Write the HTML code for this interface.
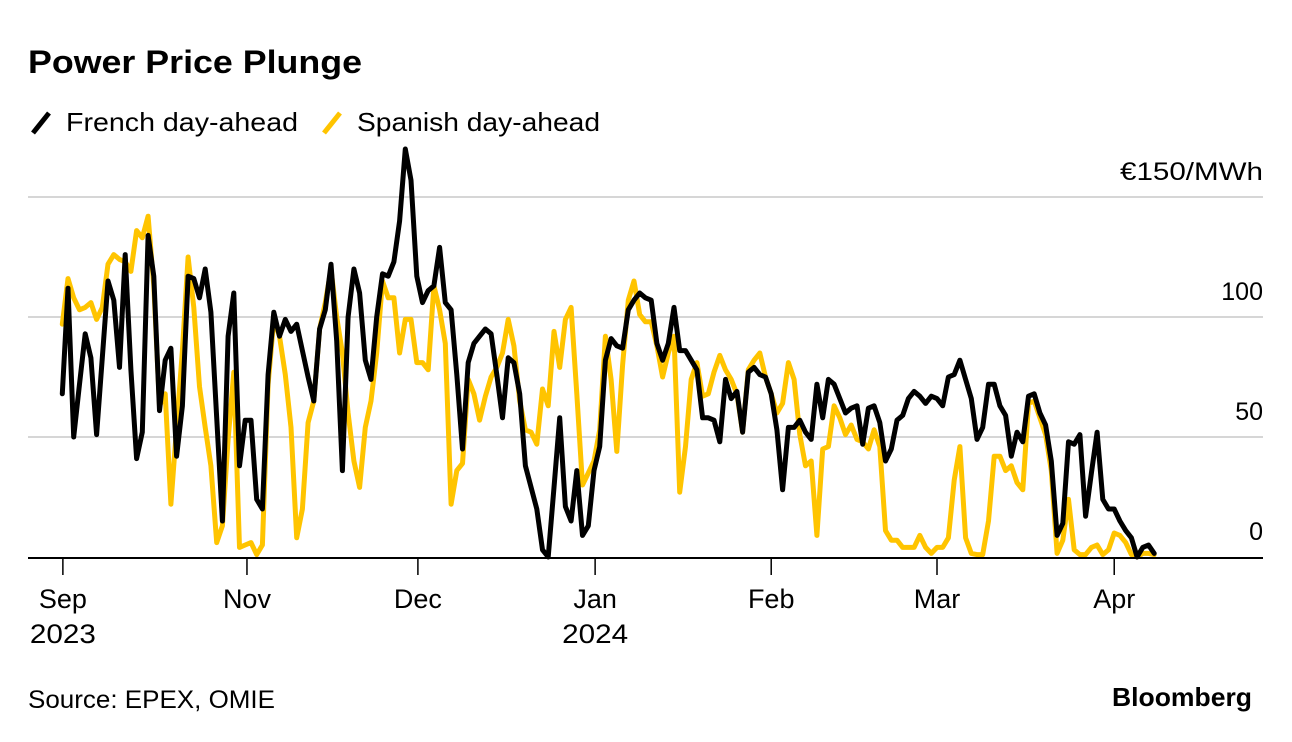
<!DOCTYPE html>
<html><head><meta charset="utf-8">
<style>
body{margin:0;background:#fff;width:1292px;height:742px;overflow:hidden;font-family:"Liberation Sans",sans-serif;}
svg{display:block}
</style></head>
<body>
<svg id="chart" width="1292" height="742" xmlns="http://www.w3.org/2000/svg">
<text x="28" y="73" font-family="Liberation Sans" font-weight="bold" font-size="32" fill="#000" textLength="334" lengthAdjust="spacingAndGlyphs">Power Price Plunge</text>
<g>
 <g>
  <line x1="33" y1="133" x2="49" y2="113" stroke="#000" stroke-width="5"/>
  <text x="66" y="131" font-size="26" fill="#000" textLength="232" lengthAdjust="spacingAndGlyphs">French day-ahead</text>
 </g>
 <g>
  <line x1="324" y1="133" x2="340" y2="113" stroke="#ffc400" stroke-width="5"/>
  <text x="357" y="131" font-size="26" fill="#000" textLength="243" lengthAdjust="spacingAndGlyphs">Spanish day-ahead</text>
 </g>
</g>
<g id="grid"></g>
<g id="ylabels"></g>
<g id="series"></g>
<g id="xaxis"></g>
<text x="28" y="708" font-size="25" fill="#000" textLength="247" lengthAdjust="spacingAndGlyphs">Source: EPEX, OMIE</text>
<text x="1112" y="706" font-size="26" font-weight="bold" fill="#000" textLength="140" lengthAdjust="spacingAndGlyphs">Bloomberg</text>
</svg>
<script>
const yTicks = [0, 50, 100, 150];
const yTickLabels = ["0", "50", "100", "€150/MWh"];
const xTickDays = [0.1, 32.3, 62.2, 93.2, 124, 153, 184];
const xTickMonths = ["Sep", "Nov", "Dec", "Jan", "Feb", "Mar", "Apr"];
const xTickYears = ["2023", "", "", "2024", "", "", ""];
const french = [68,112,50,72,93,83,51,83,115,107,
79,126,78,41,52,134,117,61,82,87,
42,63,117,116,108,120,102,58,15,92,
110,38,57,57,24,20,76,102,92,99,
94,97,86,75,65,95,103,122,90,36,
100,120,110,82,74,100,118,117,123,140,
170,157,117,106,111,113,129,106,103,76,
45,81,89,92,95,93,76,58,83,81,
68,38,29,20,3,0,29,58,21,15,
36,9,13,36,46,82,91,88,87,103,
107,110,108,107,89,82,89,104,86,86,
82,78,58,58,57,48,74,66,69,52,
77,79,76,75,68,53,28,54,54,57,
52,49,72,58,74,72,66,60,62,63,
47,62,63,56,40,45,57,59,66,69,
67,64,67,66,63,75,76,82,74,66,
49,54,72,72,63,59,42,52,48,67,
68,60,55,40,9,14,48,47,51,17,
35,52,24,20,20,15,11,8,0,4,
5,1.5];
const spanish = [97,116,108,103,104,106,99,104,122,126,
124,123,119,136,133,142,113,63,68,22,
54,86,125,104,71,54,38,6,13,49,
77,4,5,6,1,5,72,99,92,76,
54,8,20,56,65,95,106,120,100,85,
60,40,29,54,65,85,115,108,108,85,
99,99,81,81,78,113,103,89,22,36,
39,74,68,57,67,75,79,85,99,88,
65,53,52,47,70,63,94,79,99,104,
68,30,35,40,53,92,74,44,80,107,
115,101,98,98,88,75,85,92,27,46,
74,81,67,68,77,84,78,74,68,52,
78,82,85,75,68,60,64,81,74,51,
38,40,9,45,46,63,58,51,55,49,
48,45,53,46,11,7,7,4,4,4,
9,4,1.5,4,4,8,32,46,8,1.5,
1,1,15,42,42,36,38,31,28,64,
65,58,51,36,1.5,7,24,3,1,1,
4,5,1,3,10,9,6,1,0,1.5,
1.5,1];

const NS = "http://www.w3.org/2000/svg";
function xS(d){ return 62.3 + d * 5.717; }
function yS(v){ return 557 - v * 2.4; }
function mk(tag, attrs, parent){ const e = document.createElementNS(NS, tag); for (const k in attrs) e.setAttribute(k, attrs[k]); parent.appendChild(e); return e; }

const grid = document.getElementById('grid');
const ylab = document.getElementById('ylabels');
yTicks.forEach((t, i) => {
  if (t > 0) {
    const gl = mk('line', {x1: 28, x2: 1263, y1: yS(t), y2: yS(t), stroke: '#d6d6d6', 'stroke-width': 2}, grid);
    
    
  }
  const attrs = {x: 1263, y: yS(t) - 17, 'text-anchor': 'end', 'font-size': 25, fill: '#000'};
  if (i === 3) { attrs.textLength = 143; attrs.lengthAdjust = 'spacingAndGlyphs'; }
  const tx = mk('text', attrs, ylab);
  tx.textContent = yTickLabels[i];
  
  
});

const series = document.getElementById('series');
function drawLine(arr, color, name){
  const pts = arr.map((v, i) => xS(i).toFixed(1) + ',' + yS(v).toFixed(1)).join(' ');
  const pl = mk('polyline', {points: pts, fill: 'none', stroke: color, 'stroke-width': 5, 'stroke-linejoin': 'round', 'stroke-linecap': 'round'}, series);
  
  
}
drawLine(spanish, '#ffc400', 'spanish-day-ahead-line');
drawLine(french, '#000000', 'french-day-ahead-line');

const xa = document.getElementById('xaxis');
const axl = mk('line', {x1: 28, x2: 1263, y1: 558, y2: 558, stroke: '#000', 'stroke-width': 2}, xa);


xTickDays.forEach((d, i) => {
  const x = xS(d);
  const tk = mk('line', {x1: x, x2: x, y1: 558, y2: 575, stroke: '#000', 'stroke-width': 1.5}, xa);
  
  
  const m = mk('text', {x: x, y: 608, 'text-anchor': 'middle', 'font-size': 27, fill: '#000'}, xa);
  m.textContent = xTickMonths[i];
  
  
  if (xTickYears[i]) {
    const yv = mk('text', {x: x, y: 643, 'text-anchor': 'middle', 'font-size': 27, fill: '#000', textLength: 66, lengthAdjust: 'spacingAndGlyphs'}, xa);
    yv.textContent = xTickYears[i];
    
    
  }
});
</script>
</body></html>
